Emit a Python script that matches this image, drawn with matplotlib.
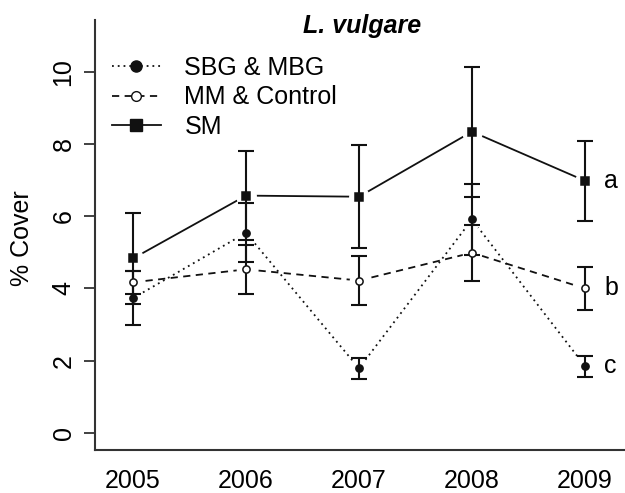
import matplotlib
matplotlib.use('Agg')
import matplotlib.pyplot as plt
from matplotlib.lines import Line2D

plt.rcParams['font.family'] = ['Liberation Sans', 'DejaVu Sans']

# --- data ---
years = [2005, 2006, 2007, 2008, 2009]

sbg_mean = [3.73, 5.54, 1.79, 5.91, 1.85]
sbg_err = [0.74, 0.82, 0.29, 0.97, 0.29]

mm_mean = [4.17, 4.53, 4.22, 4.99, 4.00]
mm_err = [0.31, 0.68, 0.67, 0.77, 0.59]

sm_mean = [4.83, 6.57, 6.54, 8.34, 6.98]
sm_err = [1.25, 1.24, 1.43, 1.80, 1.10]

series_labels = ['SBG & MBG', 'MM & Control', 'SM']
sig_letters = ['a', 'b', 'c']
y_ticks = [0, 2, 4, 6, 8, 10]

fig = plt.figure(figsize=(6.25, 4.93), dpi=100)
ax = fig.add_axes([95 / 625, 43 / 493, 530 / 625, 430 / 493])

ink = '#111111'
fs = 18

# series: (means, errors, linestyle, marker, facecolor, marker size)
series = [
    (sbg_mean, sbg_err, (0, (1, 2.2)), 'o', ink, 5.2),
    (mm_mean, mm_err, (0, (4, 3)), 'o', 'white', 5.2),
    (sm_mean, sm_err, '-', 's', ink, 6.0),
]

for means, errs, ls, mk, fc, ms in series:
    # connecting line, with a white halo around each point (like R type="b")
    ax.plot(years, means, linestyle=ls, color=ink, lw=1.3, zorder=1)
    ax.plot(years, means, linestyle='none', marker='o', ms=ms + 8,
            mfc='white', mec='white', zorder=2)

for means, errs, ls, mk, fc, ms in series:
    ax.errorbar(years, means, yerr=errs, fmt='none', ecolor=ink,
                elinewidth=1.5, capsize=6, capthick=1.5, zorder=3)

for means, errs, ls, mk, fc, ms in series:
    ax.plot(years, means, linestyle='none', marker=mk, ms=ms,
            mfc=fc, mec=ink, mew=1.1, zorder=4)

# significance letters next to the 2009 points
for letter, means in zip(sig_letters, [sm_mean, mm_mean, sbg_mean]):
    ax.text(2009.17, means[-1], letter, fontsize=fs, ha='left', va='center',
            clip_on=False)

ax.set_xlim(2004.664, 2009.354)
ax.set_ylim(-0.47, 11.43)

ax.set_xticks(years)
ax.set_xticklabels([str(y) for y in years], fontsize=fs)
ax.tick_params(axis='x', length=0, pad=14)

ax.set_yticks(y_ticks)
ax.set_yticklabels([str(t) for t in y_ticks], fontsize=fs, rotation=90,
                   va='center')
ax.tick_params(axis='y', length=8, width=1.3, pad=6, color='#333333')

for side in ['top', 'right']:
    ax.spines[side].set_visible(False)
for side in ['left', 'bottom']:
    ax.spines[side].set_linewidth(1.5)
    ax.spines[side].set_color('#333333')

ax.set_ylabel('% Cover', fontsize=fs, va='center')
ax.yaxis.set_label_coords(-0.138, 0.493)

fig.text(362 / 625, 1 - 26 / 493, 'L. vulgare', fontsize=fs,
         fontweight='bold', fontstyle='italic', ha='center', va='center')

# legend
handles = [
    Line2D([], [], linestyle=(0, (1, 2.2)), color=ink, lw=1.3, marker='o',
           ms=8, mfc=ink, mec=ink),
    Line2D([], [], linestyle=(0, (4, 3)), color=ink, lw=1.3, marker='o',
           ms=7, mfc='white', mec=ink),
    Line2D([], [], linestyle='-', color=ink, lw=1.3, marker='s',
           ms=8, mfc=ink, mec=ink),
]
fig.legend(handles, series_labels, loc='upper left',
           bbox_to_anchor=(112 / 625, 1 - 56 / 493), frameon=False,
           fontsize=fs, handlelength=1.95, handletextpad=0.95,
           labelspacing=0.22, borderpad=0, borderaxespad=0)

fig.savefig('out.png', dpi=100)
